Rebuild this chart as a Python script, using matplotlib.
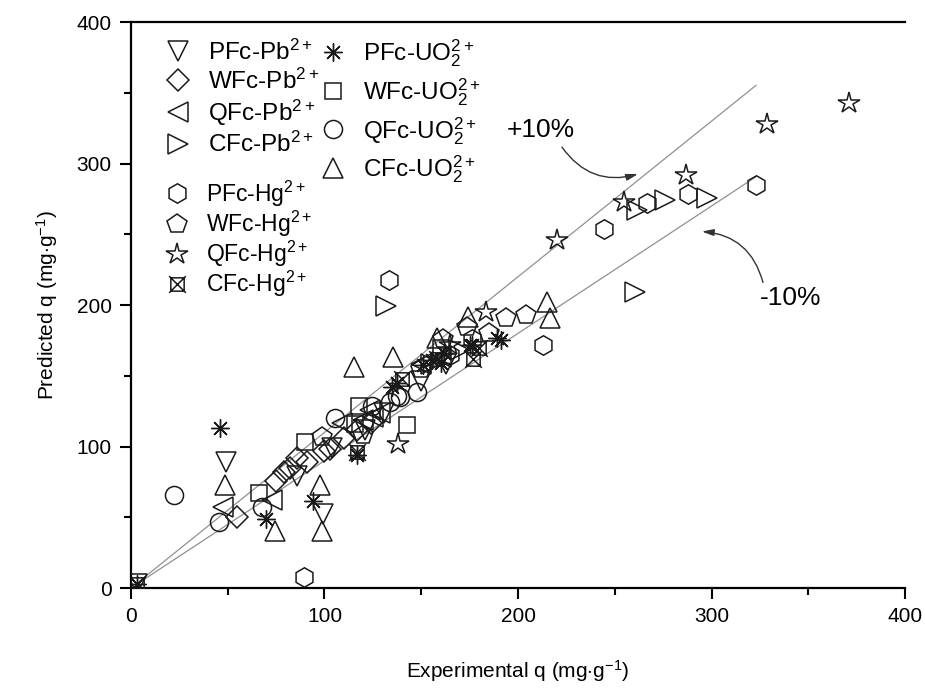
import numpy as np
import matplotlib
matplotlib.use("Agg")
import matplotlib.pyplot as plt
from matplotlib.path import Path

plt.rcParams['font.family'] = ['Liberation Sans', 'DejaVu Sans']
plt.rcParams['mathtext.fontset'] = 'custom'
plt.rcParams['mathtext.rm'] = 'Liberation Sans'
plt.rcParams['mathtext.it'] = 'Liberation Sans:italic'
plt.rcParams['mathtext.bf'] = 'Liberation Sans:bold'

# data (experimental q, predicted q)
pfc_pb_x = [3, 49, 99, 86, 104, 121, 131, 150, 163]
pfc_pb_y = [3, 89, 52, 79, 99, 112, 124, 146, 158]

wfc_pb_x = [55, 75, 79, 82, 86, 91, 100, 103, 110, 117, 124]
wfc_pb_y = [50, 76, 82, 85, 92, 89, 97, 98, 106, 112, 117]

qfc_pb_x = [47.5, 73, 109, 120, 125, 128.7, 123.5, 150, 160]
qfc_pb_y = [57, 62, 117, 119, 121, 123.6, 126, 158, 163]

cfc_pb_x = [132, 260.5, 261.5, 276, 297.7, 170, 155]
cfc_pb_y = [199, 209, 267, 274, 275.6, 168, 158]

pfc_hg_x = [133.5, 89.4, 213, 244.5, 266.6, 288, 323, 165, 176]
pfc_hg_y = [218, 7.8, 172, 254, 272, 278.5, 285, 165, 176]

wfc_hg_x = [98.7, 161, 173.6, 194, 204, 120, 150, 185]
wfc_hg_y = [107, 176, 184.5, 191, 193, 108, 155, 180]

qfc_hg_x = [371, 328.7, 286.8, 255, 220, 183.5, 138, 165]
qfc_hg_y = [343, 328, 292, 273, 246, 195, 102, 172]

cfc_hg_x = [3, 117, 140, 158, 177, 180]
cfc_hg_y = [3, 96, 148, 162, 162, 170]

pfc_uo_x = [3, 46, 70, 94, 117, 135, 137.5, 151, 155.5, 160, 162, 175, 176, 189, 191]
pfc_uo_y = [3, 113, 49, 61.5, 94, 142, 145, 157.6, 161, 159, 166, 172, 172, 177, 175]

wfc_uo_x = [66, 90, 118, 142.6, 116, 160]
wfc_uo_y = [67, 103, 129, 115, 116, 170]

qfc_uo_x = [22, 45.6, 67.6, 105.4, 124.5, 134, 139, 148, 137.5]
qfc_uo_y = [66, 47, 57, 120, 129, 131.5, 135, 138.5, 136]

cfc_uo_x = [48.6, 74.5, 97.7, 98.7, 115, 135.5, 174, 215, 216.5, 158]
cfc_uo_y = [73, 40, 73, 40, 156, 163, 191.5, 202, 191, 177]

band_x = np.array([3, 323])

# box with crossed diagonals for CFc-Hg
box_x = Path([(-1, -1), (1, -1), (1, 1), (-1, 1), (-1, -1),
              (-1.25, -1.25), (1.25, 1.25), (-1.25, 1.25), (1.25, -1.25)],
             [Path.MOVETO, Path.LINETO, Path.LINETO, Path.LINETO, Path.CLOSEPOLY,
              Path.MOVETO, Path.LINETO, Path.MOVETO, Path.LINETO])

fig = plt.figure(figsize=(9.25, 6.91), dpi=100)
ax = fig.add_axes([0.1416, 0.149, 0.8368, 0.819])

ax.plot(band_x, 1.1 * band_x, color='#909090', lw=0.9, zorder=1)
ax.plot(band_x, 0.9 * band_x, color='#909090', lw=0.9, zorder=1)

ec = '#1a1a1a'
def pts(x, y, m, s, label, mew=1.1):
    h, = ax.plot(x, y, ls='none', marker=m, markersize=s, mfc='none',
                 mec=ec, mew=mew, label=label, zorder=3)
    return h

h1 = pts(pfc_pb_x, pfc_pb_y, 'v', 15, r'PFc-Pb$^{2+}$')
h2 = pts(wfc_pb_x, wfc_pb_y, 'D', 11.5, r'WFc-Pb$^{2+}$')
h3 = pts(qfc_pb_x, qfc_pb_y, '<', 15, r'QFc-Pb$^{2+}$')
h4 = pts(cfc_pb_x, cfc_pb_y, '>', 15, r'CFc-Pb$^{2+}$')
h5 = pts(pfc_hg_x, pfc_hg_y, 'h', 14, r'PFc-Hg$^{2+}$')
h6 = pts(wfc_hg_x, wfc_hg_y, 'p', 15, r'WFc-Hg$^{2+}$')
h7 = pts(qfc_hg_x, qfc_hg_y, '*', 16, r'QFc-Hg$^{2+}$')
h8 = pts(cfc_hg_x, cfc_hg_y, box_x, 12, r'CFc-Hg$^{2+}$')
h9 = pts(pfc_uo_x, pfc_uo_y, (8, 2, 0), 13, r'PFc-UO$_2^{2+}$', mew=1.0)
h10 = pts(wfc_uo_x, wfc_uo_y, 's', 11, r'WFc-UO$_2^{2+}$')
h11 = pts(qfc_uo_x, qfc_uo_y, 'o', 13, r'QFc-UO$_2^{2+}$')
h12 = pts(cfc_uo_x, cfc_uo_y, '^', 15, r'CFc-UO$_2^{2+}$')

ax.set_xlim(0, 400)
ax.set_ylim(0, 400)
ax.set_xticks([0, 100, 200, 300, 400])
ax.set_yticks([0, 100, 200, 300, 400])
ax.set_xticks([50, 150, 250, 350], minor=True)
ax.set_yticks([50, 150, 250, 350], minor=True)
ax.tick_params(which='major', direction='out', length=8, width=1.5, labelsize=15, pad=6)
ax.tick_params(which='minor', direction='out', length=5, width=1.5)
for s in ax.spines.values():
    s.set_linewidth(1.6)
ax.spines['right'].set_visible(False)

ax.set_xlabel(r'Experimental q (mg$\cdot$g$^{-1}$)', fontsize=15, labelpad=23)
ax.set_ylabel(r'Predicted q (mg$\cdot$g$^{-1}$)', fontsize=15, labelpad=12)

kw = dict(frameon=False, handlelength=1.0, handletextpad=0.75,
          borderpad=0, borderaxespad=0, numpoints=1, loc='upper left')
leg1 = ax.legend(handles=[h1, h2, h3, h4], bbox_to_anchor=(0.045, 0.969),
                 labelspacing=0.16, fontsize=17.5, **kw)
ax.add_artist(leg1)
leg2 = ax.legend(handles=[h5, h6, h7, h8], bbox_to_anchor=(0.045, 0.724),
                 labelspacing=0.0, fontsize=16.5, **kw)
ax.add_artist(leg2)
leg3 = ax.legend(handles=[h9, h10, h11, h12], bbox_to_anchor=(0.245, 0.973),
                 labelspacing=0.29, fontsize=17.5, **kw)

ax.text(194, 324, '+10%', fontsize=19, ha='left', va='center')
ax.text(325, 205, '-10%', fontsize=19, ha='left', va='center')
arr = dict(arrowstyle='-|>,head_length=0.7,head_width=0.2', color='#333333',
           lw=1.0, shrinkA=0, shrinkB=0)
ax.annotate('', xy=(262, 292.6), xytext=(222.7, 311.7),
            arrowprops=dict(connectionstyle='arc3,rad=0.35', **arr))
ax.annotate('', xy=(295, 252), xytext=(326.6, 216),
            arrowprops=dict(connectionstyle='arc3,rad=0.35', **arr))

fig.savefig('out.png', dpi=100)
